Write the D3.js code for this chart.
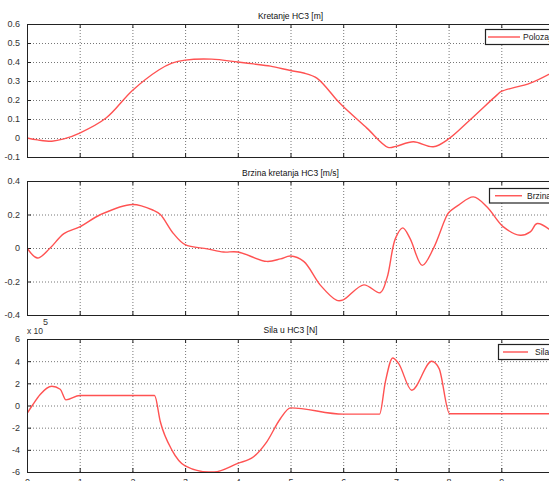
<!DOCTYPE html>
<html>
<head>
<meta charset="utf-8">
<script src="https://cdn.jsdelivr.net/npm/d3@7"></script>
<style>
  body { margin: 0; background: #fff; }
  svg { display: block; font-family: "Liberation Sans", Arial, sans-serif; }
  .tick text { fill: #333; font-size: 9px; }
  .grid line { stroke: #777; stroke-dasharray: 1, 2; }
  .grid path { display: none; }
</style>
</head>
<body>
<div class="chart"></div>
<script>
var svgWidth = 549;
var svgHeight = 481;

// Polozaj [m]
var posT = [0, 0.2, 0.47, 0.7, 1, 1.5, 2, 2.5, 2.75, 3, 3.5, 4, 4.3, 4.62, 5, 5.25, 5.5, 5.88, 6, 6.45, 6.85, 7, 7.33, 7.71, 8, 8.41, 8.92, 9, 9.55, 10];
var posV = [0, -0.01, -0.017, -0.005, 0.026, 0.105, 0.25, 0.358, 0.394, 0.41, 0.415, 0.40, 0.39, 0.378, 0.355, 0.342, 0.315, 0.2, 0.166, 0.052, -0.049, -0.044, -0.02, -0.046, -0.005, 0.096, 0.227, 0.245, 0.289, 0.35];

// Brzina [m/s]
var velT = [0, 0.2, 0.44, 0.7, 1, 1.4, 2, 2.4, 2.53, 2.78, 3, 3.42, 3.73, 4, 4.55, 4.81, 5, 5.25, 5.57, 5.88, 6, 6.39, 6.7, 6.83, 6.99, 7.13, 7.27, 7.5, 7.71, 7.94, 8, 8.19, 8.47, 8.73, 9.04, 9.36, 9.55, 9.68, 10];
var velV = [0, -0.06, 0, 0.086, 0.126, 0.2, 0.26, 0.225, 0.2, 0.086, 0.02, -0.005, -0.024, -0.024, -0.08, -0.065, -0.048, -0.08, -0.223, -0.313, -0.31, -0.22, -0.267, -0.18, 0.056, 0.12, 0.056, -0.104, -0.004, 0.176, 0.21, 0.256, 0.305, 0.245, 0.126, 0.076, 0.096, 0.146, 0.09];

// Sila [N]
var forceT = [0, 0.1, 0.25, 0.47, 0.63, 0.74, 1, 2.42, 2.53, 2.75, 3, 3.45, 3.55, 4, 4.3, 4.55, 4.81, 5, 6, 6.69, 6.8, 6.94, 7.05, 7.3, 7.68, 7.82, 8.02, 10];
var forceV = [-72000, 0, 100000, 174000, 147000, 51000, 90000, 90000, -147000, -402000, -544000, -600000, -600000, -522000, -463000, -328000, -117000, -21000, -78000, -78000, 213000, 429000, 380000, 138000, 399000, 333000, -75000, -75000];

var xTicks = [0, 1, 2, 3, 4, 5, 6, 7, 8, 9, 10];
var posTicks = [-0.1, 0, 0.1, 0.2, 0.3, 0.4, 0.5, 0.6];
var velTicks = [-0.4, -0.2, 0, 0.2, 0.4];
var forceTicks = [-600000, -400000, -200000, 0, 200000, 400000, 600000];

var titles = ["Kretanje HC3 [m]", "Brzina kretanja HC3 [m/s]", "Sila u HC3 [N]"];
var legendNames = ["Polozaj", "Brzina", "Sila"];

var panels = [
  { t: posT, v: posV, ticks: posTicks, domain: [-0.1, 0.6], fmt: d => +d.toFixed(1), curve: d3.curveCatmullRom,
    top: 24, bottom: 157, titleY: 19, leg: { x: 485, y: 29, h: 15, l1: 488, l2: 520, tx: 523 } },
  { t: velT, v: velV, ticks: velTicks, domain: [-0.4, 0.4], fmt: d => +d.toFixed(1), curve: d3.curveCatmullRom,
    top: 181, bottom: 315, titleY: 175.5, leg: { x: 489, y: 188, h: 14.5, l1: 495, l2: 522, tx: 527 } },
  { t: forceT, v: forceV, ticks: forceTicks, domain: [-600000, 600000], fmt: d => d / 100000, curve: d3.curveMonotoneX,
    top: 339, bottom: 472, titleY: 333, leg: { x: 498, y: 344, h: 15, l1: 503, l2: 528, tx: 535 } }
];

var left = 27, right = 554;

var svg = d3.select(".chart")
  .append("svg")
  .attr("width", svgWidth)
  .attr("height", svgHeight);

var xScale = d3.scaleLinear().domain([0, 10]).range([left, right]);

panels.forEach((p, i) => {
  var h = p.bottom - p.top;
  var yScale = d3.scaleLinear().domain(p.domain).range([p.bottom, p.top]);
  var g = svg.append("g");

  // grid
  g.append("g")
    .attr("class", "grid")
    .attr("transform", `translate(0, ${p.bottom})`)
    .call(d3.axisBottom(xScale).tickValues(xTicks.slice(1, -1)).tickSize(-h).tickFormat(""));
  g.append("g")
    .attr("class", "grid")
    .attr("transform", `translate(${left}, 0)`)
    .call(d3.axisLeft(yScale).tickValues(p.ticks.slice(1, -1)).tickSize(-(right - left)).tickFormat(""));

  // inward tick marks + labels
  var yAxis = g.append("g")
    .attr("transform", `translate(${left}, 0)`)
    .call(d3.axisLeft(yScale).tickValues(p.ticks).tickSize(-4).tickPadding(7).tickFormat(p.fmt));
  yAxis.select(".domain").remove();
  yAxis.selectAll("line").attr("stroke", "#222");

  var xAxis = g.append("g")
    .attr("transform", `translate(0, ${p.bottom})`)
    .call(d3.axisBottom(xScale).tickValues(xTicks).tickSize(-4).tickPadding(7)
      .tickFormat(i === 2 ? d3.format("d") : ""));
  xAxis.select(".domain").remove();
  xAxis.selectAll("line").attr("stroke", "#222");

  var xTop = g.append("g")
    .attr("transform", `translate(0, ${p.top})`)
    .call(d3.axisTop(xScale).tickValues(xTicks).tickSize(-4).tickFormat(""));
  xTop.select(".domain").remove();
  xTop.selectAll("line").attr("stroke", "#222");

  // clip
  svg.append("clipPath").attr("id", "clip" + i)
    .append("rect").attr("x", left).attr("y", p.top).attr("width", right - left).attr("height", h);

  var pts = p.t.map((t, k) => [t, p.v[k]]);
  g.append("path")
    .datum(pts)
    .attr("clip-path", `url(#clip${i})`)
    .attr("fill", "none")
    .attr("stroke", "#ff5252")
    .attr("stroke-width", 1.4)
    .attr("d", d3.line().x(d => xScale(d[0])).y(d => yScale(d[1])).curve(p.curve));

  // frame
  g.append("rect")
    .attr("x", left + 0.5).attr("y", p.top + 0.5)
    .attr("width", right - left).attr("height", h)
    .attr("fill", "none").attr("stroke", "#222").attr("stroke-width", 1);

  // title
  g.append("text")
    .attr("x", (left + right) / 2).attr("y", p.titleY)
    .attr("text-anchor", "middle")
    .attr("font-size", "8.5px").attr("fill", "#111")
    .text(titles[i]);

  // legend
  var lg = g.append("g");
  lg.append("rect")
    .attr("x", p.leg.x + 0.5).attr("y", p.leg.y + 0.5)
    .attr("width", 120).attr("height", p.leg.h)
    .attr("fill", "#fff").attr("stroke", "#222").attr("stroke-width", 1.2);
  lg.append("line")
    .attr("x1", p.leg.l1).attr("x2", p.leg.l2)
    .attr("y1", p.leg.y + p.leg.h / 2 + 0.5).attr("y2", p.leg.y + p.leg.h / 2 + 0.5)
    .attr("stroke", "#ff5252").attr("stroke-width", 1.4);
  lg.append("text")
    .attr("x", p.leg.tx).attr("y", p.leg.y + p.leg.h / 2 + 3.5)
    .attr("font-size", "8.5px").attr("fill", "#222")
    .text(legendNames[i]);
});

// exponent label for force axis
var ex = svg.append("text")
  .attr("x", 27).attr("y", 334)
  .attr("font-size", "8.5px").attr("fill", "#333");
ex.append("tspan").text("x 10");
ex.append("tspan").attr("dy", -9).attr("font-size", "9px").text("5");
</script>
</body>
</html>
